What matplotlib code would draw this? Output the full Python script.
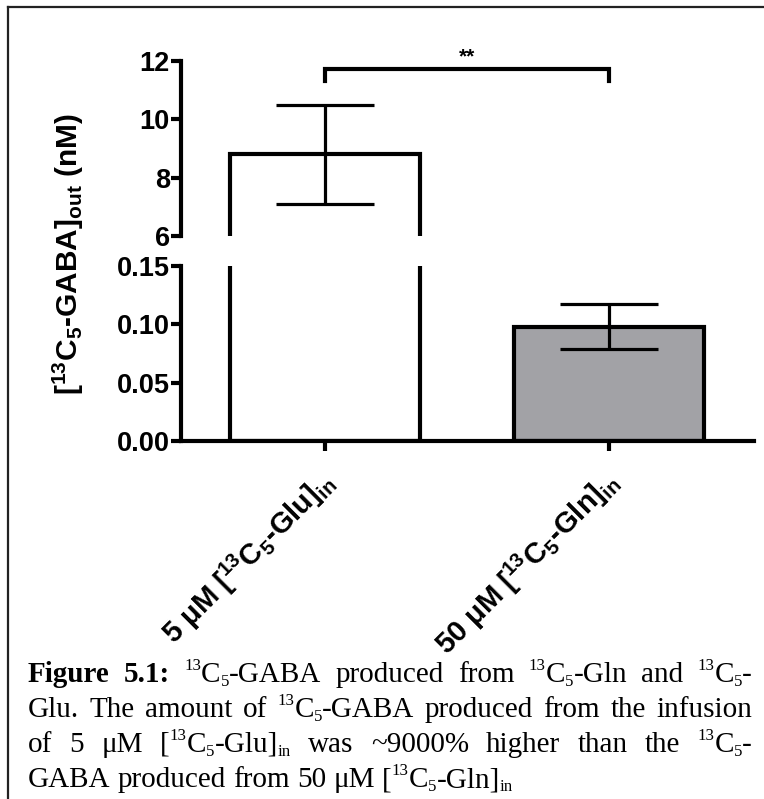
import matplotlib
matplotlib.use("Agg")
import matplotlib.pyplot as plt
from matplotlib.lines import Line2D
from matplotlib.transforms import ScaledTranslation

# ---------------- data ----------------
categories = [r"5 μM [$^{13}$C$_5$-Glu]$_{in}$", r"50 μM [$^{13}$C$_5$-Gln]$_{in}$"]
means = [8.8, 0.098]
sems = [1.7, 0.0195]
bar_colors = ["white", "#a2a2a6"]
upper_ticks = [6, 8, 10, 12]
lower_ticks = [0.00, 0.05, 0.10, 0.15]
upper_ticklabels = ["6", "8", "10", "12"]
lower_ticklabels = ["0.00", "0.05", "0.10", "0.15"]
sig_text = "**"
sig_y = 11.74
sig_drop = 11.33
ylabel = r"[$^{13}$C$_5$-GABA]$_{out}$ (nM)"

plt.rcParams["font.family"] = "Liberation Sans"
plt.rcParams["font.weight"] = "bold"
plt.rcParams["mathtext.fontset"] = "custom"
plt.rcParams["mathtext.rm"] = "Liberation Sans:bold"
plt.rcParams["mathtext.it"] = "Liberation Sans:bold"
plt.rcParams["mathtext.bf"] = "Liberation Sans:bold"
plt.rcParams["mathtext.default"] = "rm"

W, H = 764, 799
fig = plt.figure(figsize=(W / 100, H / 100), dpi=100)

def fx(px):
    return px / W

def fy(py):
    return 1 - py / H

left_px, right_px = 181, 754
ax_up = fig.add_axes([fx(left_px), fy(236), fx(right_px - left_px), (236 - 61) / H])
ax_lo = fig.add_axes([fx(left_px), fy(441), fx(right_px - left_px), (441 - 266) / H])

x = [0, 1]
LW = 3.0
FS = 19.5
for ax in (ax_up, ax_lo):
    ax.bar(x, means, width=0.67, color=bar_colors, edgecolor="black", linewidth=LW, zorder=2)
    ax.errorbar(x, means, yerr=sems, fmt="none", ecolor="black", elinewidth=2.3,
                capsize=35, capthick=2.3, zorder=3)
    ax.set_xlim(-0.507, 1.51)
    for s in ("top", "right"):
        ax.spines[s].set_visible(False)
    ax.spines["left"].set_linewidth(LW)
    ax.spines["bottom"].set_linewidth(LW)
    ax.tick_params(axis="both", width=LW, length=7, labelsize=FS, pad=1)
    ax.patch.set_alpha(0)

ax_up.set_ylim(6, 12)
ax_up.set_yticks(upper_ticks)
ax_up.set_yticklabels(upper_ticklabels)
ax_up.spines["bottom"].set_visible(False)
ax_up.set_xticks([])

ax_lo.set_ylim(0, 0.15)
ax_lo.set_yticks(lower_ticks)
ax_lo.set_yticklabels(lower_ticklabels)
ax_lo.set_xticks(x)
ax_lo.set_xticklabels(categories, rotation=45, ha="right", va="top",
                      rotation_mode="anchor", fontsize=21)
ax_lo.tick_params(axis="x", pad=9)
shift = ScaledTranslation(-8 / 100, -1 / 100, fig.dpi_scale_trans)
for lab in ax_lo.get_xticklabels():
    lab.set_transform(lab.get_transform() + shift)

# significance bracket
ax_up.plot([0, 0, 1, 1], [sig_drop, sig_y, sig_y, sig_drop], color="black",
           linewidth=LW, clip_on=False, solid_joinstyle="miter")
ax_up.text(0.5, sig_y + 0.06, sig_text, ha="center", va="bottom", fontsize=15,
           fontweight="bold", clip_on=False)

# y label
fig.text(fx(68), fy(254), ylabel, rotation=90, ha="center", va="center", fontsize=21.5,
         fontweight="bold")

# frame lines (left and top)
fig.add_artist(Line2D([fx(7.5), fx(7.5)], [fy(7), 0], color="#222222", linewidth=1.6))
fig.add_artist(Line2D([fx(7.5), 1], [fy(7), fy(7)], color="#222222", linewidth=1.6))

# ---------------- caption ----------------
CF = "Liberation Serif"
CS = 21
SUP = 0.58
caption_lines = [
    [[("Figure", "b")], [("5.1:", "b")], [("13", "sup"), ("C", "n"), ("5", "sub"), ("-GABA", "n")],
     [("produced", "n")], [("from", "n")], [("13", "sup"), ("C", "n"), ("5", "sub"), ("-Gln", "n")],
     [("and", "n")], [("13", "sup"), ("C", "n"), ("5", "sub"), ("-", "n")]],
    [[("Glu.", "n")], [("The", "n")], [("amount", "n")], [("of", "n")],
     [("13", "sup"), ("C", "n"), ("5", "sub"), ("-GABA", "n")], [("produced", "n")],
     [("from", "n")], [("the", "n")], [("infusion", "n")]],
    [[("of", "n")], [("5", "n")], [("μM", "n")],
     [("[", "n"), ("13", "sup"), ("C", "n"), ("5", "sub"), ("-Glu]", "n"), ("in", "sub")],
     [("was", "n")], [("~9000%", "n")], [("higher", "n")], [("than", "n")], [("the", "n")],
     [("13", "sup"), ("C", "n"), ("5", "sub"), ("-", "n")]],
    [[("GABA", "n")], [("produced", "n")], [("from", "n")], [("50", "n")], [("μM", "n")],
     [("[", "n"), ("13", "sup"), ("C", "n"), ("5", "sub"), ("-Gln]", "n"), ("in", "sub")]],
]
baselines = [682, 717, 752, 787]
justify = [True, True, True, False]
cap_left, cap_right = 28, 752

fig.canvas.draw()
renderer = fig.canvas.get_renderer()
pt2px = 100 / 72.0

def run_props(kind):
    if kind == "b":
        return CS, 0.0, "bold"
    if kind == "sup":
        return CS * SUP, 0.42 * CS * pt2px, "normal"
    if kind == "sub":
        return CS * SUP, -0.15 * CS * pt2px, "normal"
    return CS, 0.0, "normal"

def measure(text, size, weight):
    t = fig.text(0, 0, text, fontsize=size, family=CF, fontweight=weight)
    bb = t.get_window_extent(renderer)
    t.remove()
    return bb.width

def word_width(word):
    return sum(measure(s, run_props(k)[0], run_props(k)[2]) for s, k in word)

space_w = measure("a a", CS, "normal") - measure("aa", CS, "normal")

for line, base, just in zip(caption_lines, baselines, justify):
    widths = [word_width(w) for w in line]
    if just:
        gap = (cap_right - cap_left - sum(widths)) / (len(line) - 1)
    else:
        gap = space_w
    cx = cap_left
    for w, ww in zip(line, widths):
        px = cx
        for s, k in w:
            size, dy, weight = run_props(k)
            fig.text(fx(px), fy(base - dy), s, fontsize=size, family=CF, fontweight=weight,
                     ha="left", va="baseline")
            px += measure(s, size, weight)
        cx += ww + gap

fig.savefig("out.png", dpi=100)
